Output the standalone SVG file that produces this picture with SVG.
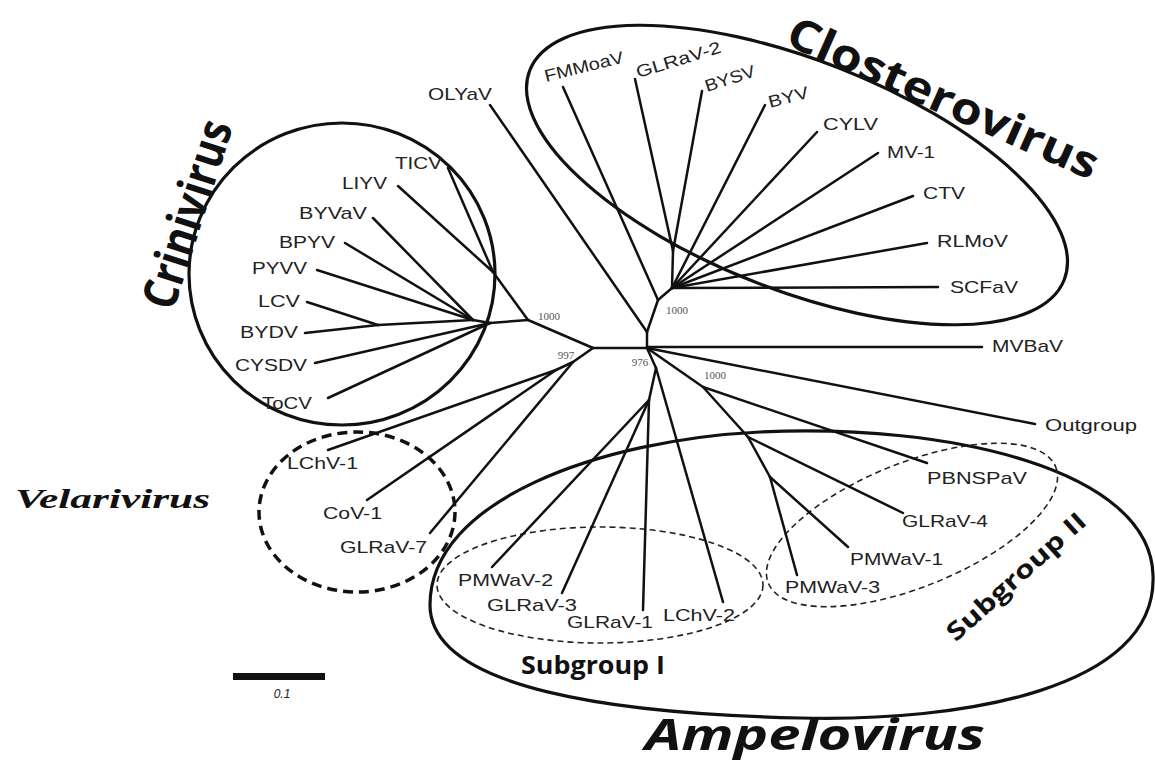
<svg xmlns="http://www.w3.org/2000/svg" width="1155" height="765" viewBox="0 0 1155 765">
<style>
.br{stroke:#111;stroke-width:2.5;fill:none;stroke-linecap:round}
.lb{font-family:"Liberation Sans",Arial,sans-serif;font-size:17px;fill:#222}
.bs{font-family:"Liberation Serif",serif;font-size:11px;fill:#555;text-anchor:middle}
.clade{fill:none;stroke:#111;stroke-width:3.2}
.vel{fill:none;stroke:#111;stroke-width:3.5;stroke-dasharray:10 6}
.sub{fill:none;stroke:#222;stroke-width:1.6;stroke-dasharray:6 4}
.gl{font-family:"Open Sans","Liberation Sans",sans-serif;font-weight:bold;fill:#111}
</style>
<rect width="1155" height="765" fill="#fff"/>
<g id="clades">
<ellipse id="closterovirus-hull" class="clade" cx="797" cy="175" rx="287" ry="115" transform="rotate(21.4 797 175)"/>
<ellipse id="crinivirus-hull" class="clade" cx="342" cy="274" rx="153" ry="151"/>
<ellipse id="velarivirus-hull" class="vel" cx="357" cy="512" rx="98" ry="80"/>
<path id="ampelovirus-hull" class="clade" d="M430,605 C430,500 600,440 760,432 C950,423 1150,470 1153,575 C1158,690 960,722 800,718 C620,714 430,690 430,605 Z"/>
<ellipse id="subgroup1-hull" class="sub" cx="600" cy="585" rx="163" ry="58"/>
<ellipse id="subgroup2-hull" class="sub" cx="912" cy="525" rx="155" ry="62" transform="rotate(-22 912 525)"/>
</g>
<g id="connectors" class="br">
<line x1="647" y1="348" x2="647" y2="332"/>
<line x1="647" y1="332" x2="658" y2="300"/>
<line x1="658" y1="300" x2="672" y2="288"/>
<line x1="672" y1="288" x2="673" y2="251"/>
<line x1="563" y1="87" x2="658" y2="300"/>
<line x1="635" y1="79" x2="673" y2="251"/>
<line x1="702" y1="91" x2="673" y2="251"/>
<line x1="765" y1="105" x2="672" y2="288"/>
<line x1="817" y1="132" x2="672" y2="288"/>
<line x1="878" y1="153" x2="672" y2="288"/>
<line x1="913" y1="196" x2="672" y2="288"/>
<line x1="927" y1="243" x2="672" y2="288"/>
<line x1="938" y1="287" x2="672" y2="288"/>
<line x1="490" y1="105" x2="647" y2="332"/>
<line x1="647" y1="348" x2="593" y2="348"/>
<line x1="593" y1="348" x2="528" y2="320"/>
<line x1="528" y1="320" x2="493" y2="272"/>
<line x1="448" y1="168" x2="493" y2="272"/>
<line x1="398" y1="186" x2="493" y2="272"/>
<line x1="528" y1="320" x2="490" y2="323"/>
<line x1="315" y1="363" x2="490" y2="323"/>
<line x1="328" y1="398" x2="490" y2="323"/>
<line x1="490" y1="323" x2="473" y2="320"/>
<line x1="373" y1="218" x2="473" y2="320"/>
<line x1="345" y1="243" x2="473" y2="320"/>
<line x1="317" y1="270" x2="473" y2="320"/>
<line x1="473" y1="320" x2="378" y2="325"/>
<line x1="307" y1="302" x2="378" y2="325"/>
<line x1="305" y1="333" x2="378" y2="325"/>
<line x1="593" y1="348" x2="573" y2="362"/>
<line x1="430" y1="533" x2="573" y2="362"/>
<line x1="573" y1="362" x2="556" y2="370"/>
<line x1="328" y1="450" x2="556" y2="370"/>
<line x1="367" y1="500" x2="556" y2="370"/>
<line x1="647" y1="347" x2="982" y2="347"/>
<line x1="647" y1="348" x2="1035" y2="424"/>
<line x1="647" y1="348" x2="703" y2="387"/>
<line x1="703" y1="387" x2="927" y2="463"/>
<line x1="703" y1="387" x2="748" y2="437"/>
<line x1="748" y1="437" x2="903" y2="513"/>
<line x1="748" y1="437" x2="770" y2="477"/>
<line x1="770" y1="477" x2="848" y2="547"/>
<line x1="770" y1="477" x2="797" y2="575"/>
<line x1="647" y1="348" x2="656" y2="368"/>
<line x1="656" y1="368" x2="723" y2="602"/>
<line x1="656" y1="368" x2="649" y2="400"/>
<line x1="649" y1="400" x2="643" y2="610"/>
<line x1="649" y1="400" x2="492" y2="567"/>
<line x1="649" y1="400" x2="562" y2="593"/>
</g>
<g id="bootstrap">
<text class="bs" x="549" y="320">1000</text>
<text class="bs" x="677" y="314">1000</text>
<text class="bs" x="566" y="359">997</text>
<text class="bs" x="640" y="366">976</text>
<text class="bs" x="715" y="379">1000</text>
</g>
<g id="node-OLYaV"><text class="lb" x="428" y="100" textLength="64" lengthAdjust="spacingAndGlyphs">OLYaV</text></g>
<g id="node-FMMoaV"><text class="lb" x="546" y="82" textLength="81" lengthAdjust="spacingAndGlyphs" transform="rotate(-14 546 82)">FMMoaV</text></g>
<g id="node-GLRaV-2"><text class="lb" x="638" y="78" textLength="88" lengthAdjust="spacingAndGlyphs" transform="rotate(-17 638 78)">GLRaV-2</text></g>
<g id="node-BYSV"><text class="lb" x="707" y="92" textLength="52" lengthAdjust="spacingAndGlyphs" transform="rotate(-18 707 92)">BYSV</text></g>
<g id="node-BYV"><text class="lb" x="770" y="108" textLength="41" lengthAdjust="spacingAndGlyphs" transform="rotate(-15 770 108)">BYV</text></g>
<g id="node-CYLV"><text class="lb" x="823" y="130" textLength="55" lengthAdjust="spacingAndGlyphs">CYLV</text></g>
<g id="node-MV-1"><text class="lb" x="887" y="158" textLength="48" lengthAdjust="spacingAndGlyphs">MV-1</text></g>
<g id="node-CTV"><text class="lb" x="923" y="199" textLength="42" lengthAdjust="spacingAndGlyphs">CTV</text></g>
<g id="node-RLMoV"><text class="lb" x="937" y="247" textLength="71" lengthAdjust="spacingAndGlyphs">RLMoV</text></g>
<g id="node-SCFaV"><text class="lb" x="950" y="293" textLength="68" lengthAdjust="spacingAndGlyphs">SCFaV</text></g>
<g id="node-TICV"><text class="lb" x="395" y="169" textLength="47" lengthAdjust="spacingAndGlyphs">TICV</text></g>
<g id="node-LIYV"><text class="lb" x="342" y="189" textLength="45" lengthAdjust="spacingAndGlyphs">LIYV</text></g>
<g id="node-BYVaV"><text class="lb" x="299" y="219" textLength="68" lengthAdjust="spacingAndGlyphs">BYVaV</text></g>
<g id="node-BPYV"><text class="lb" x="279" y="248" textLength="56" lengthAdjust="spacingAndGlyphs">BPYV</text></g>
<g id="node-PYVV"><text class="lb" x="252" y="274" textLength="55" lengthAdjust="spacingAndGlyphs">PYVV</text></g>
<g id="node-LCV"><text class="lb" x="258" y="307" textLength="42" lengthAdjust="spacingAndGlyphs">LCV</text></g>
<g id="node-BYDV"><text class="lb" x="240" y="338" textLength="58" lengthAdjust="spacingAndGlyphs">BYDV</text></g>
<g id="node-CYSDV"><text class="lb" x="235" y="371" textLength="72" lengthAdjust="spacingAndGlyphs">CYSDV</text></g>
<g id="node-ToCV"><text class="lb" x="262" y="409" textLength="50" lengthAdjust="spacingAndGlyphs">ToCV</text></g>
<g id="node-LChV-1"><text class="lb" x="287" y="469" textLength="71" lengthAdjust="spacingAndGlyphs">LChV-1</text></g>
<g id="node-CoV-1"><text class="lb" x="323" y="519" textLength="59" lengthAdjust="spacingAndGlyphs">CoV-1</text></g>
<g id="node-GLRaV-7"><text class="lb" x="340" y="553" textLength="87" lengthAdjust="spacingAndGlyphs">GLRaV-7</text></g>
<g id="node-PMWaV-2"><text class="lb" x="458" y="586" textLength="95" lengthAdjust="spacingAndGlyphs">PMWaV-2</text></g>
<g id="node-GLRaV-3"><text class="lb" x="487" y="611" textLength="90" lengthAdjust="spacingAndGlyphs">GLRaV-3</text></g>
<g id="node-GLRaV-1"><text class="lb" x="567" y="628" textLength="86" lengthAdjust="spacingAndGlyphs">GLRaV-1</text></g>
<g id="node-LChV-2"><text class="lb" x="663" y="621" textLength="72" lengthAdjust="spacingAndGlyphs">LChV-2</text></g>
<g id="node-PMWaV-3"><text class="lb" x="785" y="593" textLength="95" lengthAdjust="spacingAndGlyphs">PMWaV-3</text></g>
<g id="node-PMWaV-1"><text class="lb" x="850" y="565" textLength="93" lengthAdjust="spacingAndGlyphs">PMWaV-1</text></g>
<g id="node-GLRaV-4"><text class="lb" x="902" y="527" textLength="86" lengthAdjust="spacingAndGlyphs">GLRaV-4</text></g>
<g id="node-PBNSPaV"><text class="lb" x="927" y="484" textLength="100" lengthAdjust="spacingAndGlyphs">PBNSPaV</text></g>
<g id="node-Outgroup"><text class="lb" x="1045" y="431" textLength="92" lengthAdjust="spacingAndGlyphs">Outgroup</text></g>
<g id="node-MVBaV"><text class="lb" x="992" y="352" textLength="71" lengthAdjust="spacingAndGlyphs">MVBaV</text></g>
<g id="labels">
<text class="gl" x="937" y="112" font-size="44" text-anchor="middle" textLength="336" lengthAdjust="spacingAndGlyphs" transform="rotate(24 937 112)">Closterovirus</text>
<text class="gl" x="173" y="312" font-size="48" textLength="195" lengthAdjust="spacingAndGlyphs" transform="rotate(-72 173 312)">Crinivirus</text>
<text x="15" y="508" font-family="'Liberation Serif',serif" font-weight="bold" font-style="italic" font-size="27" fill="#111" textLength="195" lengthAdjust="spacingAndGlyphs">Velarivirus</text>
<text class="gl" x="521" y="674" font-size="25" textLength="144" lengthAdjust="spacingAndGlyphs">Subgroup I</text>
<text class="gl" x="1022" y="583" font-size="25" text-anchor="middle" textLength="178" lengthAdjust="spacingAndGlyphs" transform="rotate(-42 1022 583)">Subgroup II</text>
<text class="gl" x="645" y="750" font-size="43" font-style="italic" textLength="340" lengthAdjust="spacingAndGlyphs">Ampelovirus</text>
</g>
<g id="scale-bar">
<rect x="233" y="673" width="92" height="7" fill="#111"/>
<text x="282" y="698" font-family="'Liberation Sans',sans-serif" font-style="italic" font-size="12" fill="#222" text-anchor="middle">0.1</text>
</g>
</svg>
